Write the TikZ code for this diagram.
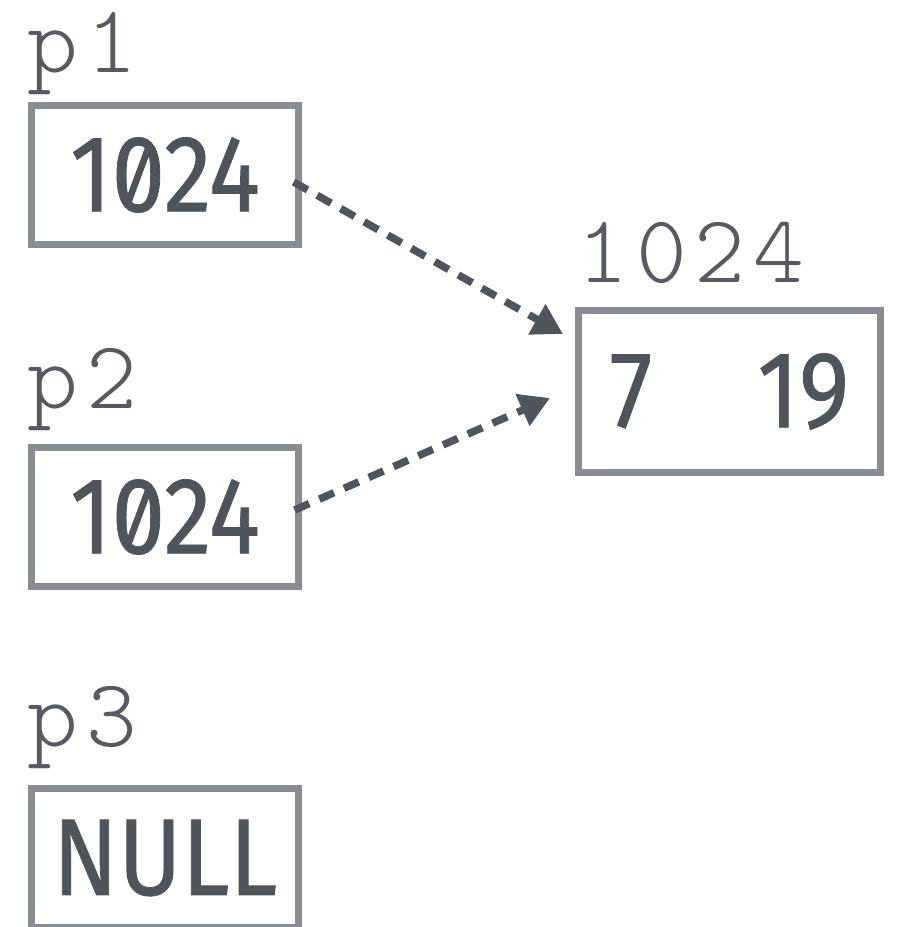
\documentclass[tikz,border=0pt]{standalone}
\usepackage{fontspec}
\setmainfont{Liberation Serif}
\newfontfamily\labelfont[LetterSpace=8]{Latin Modern Mono Light}
\newfontfamily\handfont[FakeStretch=0.88,FakeBold=0.7,Numbers=SlashedZero]{Fira Sans}
\usetikzlibrary{arrows.meta}
\definecolor{labelgray}{HTML}{575B61}
\definecolor{handgray}{HTML}{4F545A}
\definecolor{boxgray}{HTML}{898C91}
\definecolor{arrowgray}{HTML}{50555C}
\tikzset{
  membox/.style={draw=boxgray, line width=0.07cm, inner sep=0pt, outer sep=0pt,
    minimum width=2.67cm, minimum height=1.39cm, text=handgray,
    font=\handfont\fontsize{31}{31}\selectfont},
  varlabel/.style={anchor=base west, inner sep=0pt, text=labelgray,
    font=\labelfont\fontsize{27.5}{27.5}\selectfont},
  ptrarrow/.style={draw=arrowgray, line width=0.075cm, dash pattern=on 0.16cm off 0.11cm,
    -{Triangle[length=0.3cm,width=0.33cm]}}
}
\begin{document}
\begin{tikzpicture}[x=0.01cm,y=-0.01cm]
\useasboundingbox (0,0) rectangle (898,927);
% boxes
\node[membox] (b1) at (165,175) {1024};
\node[membox] (b2) at (165,517) {1024};
\node[membox] (b3) at (165,858) {NULL};
\node[membox, minimum width=3.02cm, minimum height=1.62cm] (m) at (729.5,391.5) {7\hspace{1.05cm}19};
% labels
\node[varlabel] (l1) at (27,72) {p1};
\node[varlabel] (l2) at (27,408) {p2};
\node[varlabel] (l3) at (27,746) {p3};
\node[varlabel] (lm) at (577,282) {1024};
% pointer targets
\coordinate (t1) at (563,334);
\coordinate (t2) at (550,398);
\draw[ptrarrow] ([xshift=-0.05cm,yshift=-0.07cm]b1.east) -- (t1);
\draw[ptrarrow] ([xshift=-0.04cm,yshift=0.07cm]b2.east) -- (t2);
\end{tikzpicture}
\end{document}
